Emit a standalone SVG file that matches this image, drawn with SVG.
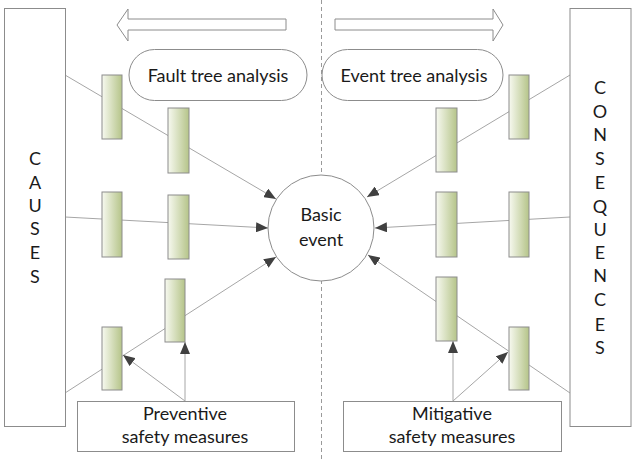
<svg xmlns="http://www.w3.org/2000/svg" width="639" height="459" viewBox="0 0 639 459">
<defs>
<linearGradient id="g" x1="0" y1="0" x2="1" y2="0">
<stop offset="0" stop-color="#f7f9f0"/>
<stop offset="1" stop-color="#b5c489"/>
</linearGradient>
<marker id="ah" viewBox="0 0 12 10" refX="12" refY="5" markerWidth="12" markerHeight="10" markerUnits="userSpaceOnUse" orient="auto">
<path d="M0,0 L12,5 L0,10 z" fill="#404040"/>
</marker>
</defs>
<style>
.box{fill:#fff;stroke:#8c8c8c;stroke-width:1}
.bar{fill:url(#g);stroke:#8c8c8c;stroke-width:1}
.ln{fill:none;stroke:#a6a6a6;stroke-width:1}
.arr{fill:none;stroke:#a6a6a6;stroke-width:1;marker-end:url(#ah)}
text{font-family:"Lato","Open Sans","Liberation Sans",sans-serif;font-size:18px;fill:#1a1a1a;text-anchor:middle}
</style>
<rect width="639" height="459" fill="#fff"/>
<line x1="321.5" y1="0" x2="321.5" y2="459" stroke="#9a9a9a" stroke-width="1" stroke-dasharray="4,3"/>
<g id="fta-arrow"><path class="box" d="M286,19 L128,19 L128,9 L117,25 L128,41 L128,30 L286,30 z"/></g>
<g id="eta-arrow"><path class="box" d="M335,19 L493,19 L493,9 L503,25 L493,41 L493,30 L335,30 z"/></g>
<g id="connectors">
<path class="arr" d="M65,75 L276,199"/>
<path class="arr" d="M65,217 L268,228"/>
<path class="arr" d="M65,393 L276,257"/>
<path class="arr" d="M570,75 L367,197"/>
<path class="arr" d="M570,217 L375,228"/>
<path class="arr" d="M570,393 L368,255"/>
<path class="arr" d="M185,401 L185,342"/>
<path class="arr" d="M185,401 L123,355"/>
<path class="arr" d="M453,401 L453,341"/>
<path class="arr" d="M453,401 L508,352"/>
</g>
<g id="causes"><rect class="box" x="4.5" y="8.5" width="61" height="418"/>
<text x="35" y="165">C</text><text x="35" y="189">A</text><text x="35" y="212">U</text><text x="35" y="235">S</text><text x="35" y="259">E</text><text x="35" y="283">S</text></g>
<g id="consequences"><rect class="box" x="570" y="8.5" width="61" height="418"/>
<text x="600" y="94">C</text><text x="600" y="118">O</text><text x="600" y="141">N</text><text x="600" y="165">S</text><text x="600" y="189">E</text><text x="600" y="213">Q</text><text x="600" y="236">U</text><text x="600" y="259">E</text><text x="600" y="282">N</text><text x="600" y="306">C</text><text x="600" y="331">E</text><text x="600" y="354">S</text></g>
<g id="fta"><rect class="box" x="129" y="49.5" width="178" height="51" rx="25.5"/><text x="218" y="82">Fault tree analysis</text></g>
<g id="eta"><rect class="box" x="322" y="49.5" width="181" height="51" rx="25.5"/><text x="414" y="82">Event tree analysis</text></g>
<g id="b1"><rect class="bar" x="102" y="75" width="20" height="64"/></g>
<g id="b2"><rect class="bar" x="168" y="108" width="21" height="65"/></g>
<g id="b3"><rect class="bar" x="102" y="192" width="20" height="65"/></g>
<g id="b4"><rect class="bar" x="168" y="195" width="21" height="64"/></g>
<g id="b5"><rect class="bar" x="165" y="279" width="20" height="63"/></g>
<g id="b6"><rect class="bar" x="102" y="327" width="20" height="63"/></g>
<g id="b7"><rect class="bar" x="509" y="75" width="20" height="64"/></g>
<g id="b8"><rect class="bar" x="436" y="108" width="21" height="64"/></g>
<g id="b9"><rect class="bar" x="436" y="192" width="21" height="65"/></g>
<g id="b10"><rect class="bar" x="509" y="192" width="20" height="65"/></g>
<g id="b11"><rect class="bar" x="436" y="277" width="21" height="64"/></g>
<g id="b12"><rect class="bar" x="509" y="327" width="20" height="63"/></g>
<g id="basic"><circle class="box" cx="321" cy="228" r="53"/><text x="321" y="221">Basic</text><text x="321" y="246">event</text></g>
<g id="preventive"><rect class="box" x="77.5" y="401.5" width="217" height="50"/><text x="185" y="420">Preventive</text><text x="185" y="443">safety measures</text></g>
<g id="mitigative"><rect class="box" x="343.5" y="401.5" width="218" height="50"/><text x="452" y="420">Mitigative</text><text x="452" y="443">safety measures</text></g>
</svg>
